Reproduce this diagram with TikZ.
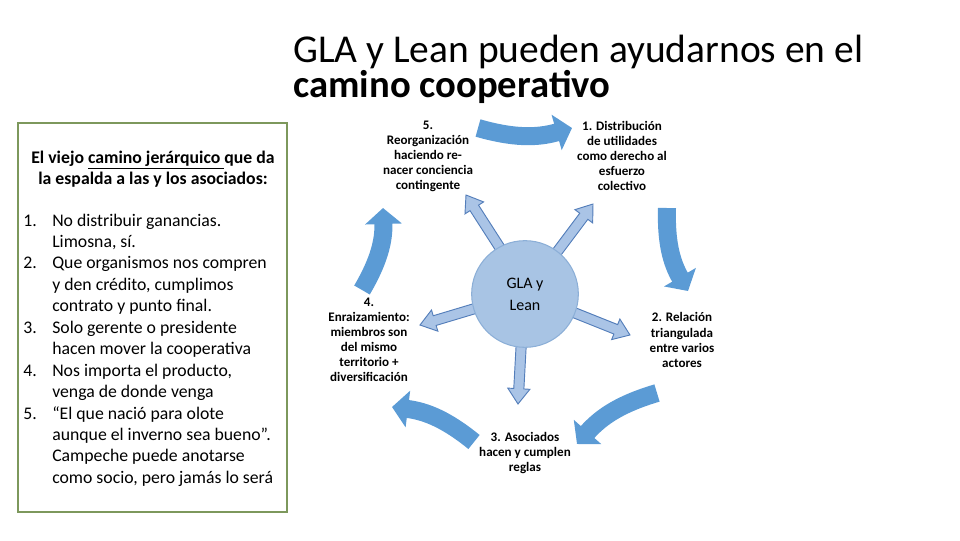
\documentclass[tikz,border=0pt]{standalone}
\usepackage{fontspec}
\setmainfont{Carlito}
\usetikzlibrary{arrows.meta,calc}
\definecolor{bigblue}{RGB}{91,155,213}
\definecolor{lightfill}{RGB}{170,196,230}
\definecolor{lightline}{RGB}{84,126,186}
\definecolor{circfill}{RGB}{168,196,228}
\definecolor{circline}{RGB}{140,175,215}
\definecolor{boxgreen}{RGB}{125,152,92}
\tikzset{
  bigarrow/.style={draw=bigblue, line width=13.5pt,
    -{Triangle[width=27pt,length=12pt]}},
  thinarrow/.style={draw=lightline, fill=lightfill, line width=0.7pt, line join=miter},
  lbl/.style={font=\fontsize{9.8pt}{11.3pt}\selectfont\bfseries, align=center, inner sep=0pt},
  title/.style={anchor=base west, inner sep=0pt, font=\fontsize{29.6pt}{36pt}\selectfont},
  itemtxt/.style={anchor=base west, inner sep=0pt, font=\fontsize{13.3pt}{16pt}\selectfont},
}
\newcommand{\blockarr}[2]{%
  \coordinate (hb) at ($(#2)!11.5pt!(#1)$);
  \path[thinarrow] ($(#1)!3.8pt!90:(#2)$) -- ($(hb)!3.8pt!90:(#2)$)
    -- ($(hb)!8.3pt!90:(#2)$) -- (#2) -- ($(hb)!8.3pt!-90:(#2)$)
    -- ($(hb)!3.8pt!-90:(#2)$) -- ($(#1)!3.8pt!-90:(#2)$) -- cycle;
}
\begin{document}
\begin{tikzpicture}[x=0.75pt,y=-0.75pt]
\useasboundingbox (0,0) rectangle (960,540);
% title
\node[title] (t1) at (293,62) {GLA y Lean pueden ayudarnos en el};
\node[title, font=\fontsize{29pt}{36pt}\selectfont\bfseries] (t2) at (293,97) {camino cooperativo};
% left box
\node[draw=boxgreen, line width=1.6pt, minimum width=202pt, minimum height=292pt, anchor=north west, inner sep=0pt] (box) at (17,122) {};
\node[anchor=base, inner sep=0pt, font=\fontsize{13.3pt}{16pt}\selectfont\bfseries] (h1) at (153,163)
  {El viejo \underline{camino jerárquico }que da};
\node[anchor=base, inner sep=0pt, font=\fontsize{13.3pt}{16pt}\selectfont\bfseries] (h2) at (153,184)
  {la espalda a las y los asociados:};
\foreach \n/\y in {1./226, 2./268.9, 3./333.25, 4./376.15, 5./419.05}
  \node[itemtxt] (num\n) at (23,\y) {\n};
\foreach \t [count=\i from 0] in {No distribuir ganancias., {Limosna, sí.}, Que organismos nos compren, {y den crédito, cumplimos}, contrato y punto final., Solo gerente o presidente, hacen mover la cooperativa, {Nos importa el producto,}, venga de donde venga, “El que nació para olote, aunque el inverno sea bueno”., Campeche puede anotarse, {como socio, pero jamás lo será}}
  \node[itemtxt] (line\i) at (52,{226+\i*21.45}) {\t};
% centre circle
\coordinate (c) at (525,294);
\coordinate (e5) at (466,195);
\coordinate (e1) at (593,204);
\coordinate (e4) at (420,325);
\coordinate (e2) at (630,335);
\coordinate (e3) at (518,404);
\coordinate (s5) at (511,265);
\coordinate (s1) at (545,268);
\coordinate (s4) at (490,304);
\coordinate (s2) at (560,307);
\coordinate (s3) at (522,330);
\blockarr{s5}{e5}
\blockarr{s1}{e1}
\blockarr{s4}{e4}
\blockarr{s2}{e2}
\blockarr{s3}{e3}
\node[circle, draw=circline, fill=circfill, line width=0.8pt, minimum size=80pt, inner sep=0pt,
  align=center, font=\fontsize{12pt}{16.5pt}\selectfont] (gla) at (c) {GLA y\\Lean};
% labels
\node[lbl] (n5) at (428,156) {5.\\Reorganización\\haciendo re-\\nacer conciencia\\contingente};
\node[lbl] (n1) at (622,156) {1. Distribución\\de utilidades\\como derecho al\\esfuerzo\\colectivo};
\node[lbl] (n4) at (369,340) {4.\\Enraizamiento:\\miembros son\\del mismo\\territorio +\\diversificación};
\node[lbl] (n2) at (682,340) {2. Relación\\triangulada\\entre varios\\actores};
\node[lbl] (n3) at (525,453) {3. Asociados\\hacen y cumplen\\reglas};
% cycle arrows
\coordinate (a5s) at (478,128);
\coordinate (a5e) at (572,128);
\coordinate (a1s) at (667,208);
\coordinate (a1e) at (688,291);
\coordinate (a2s) at (657,393);
\coordinate (a2e) at (577,444);
\coordinate (a3s) at (474,442);
\coordinate (a3e) at (392,407);
\coordinate (a4s) at (362,290);
\coordinate (a4e) at (383,208);
\draw[bigarrow] (a5s) to[bend right=16] (a5e);
\draw[bigarrow] (a1s) to[bend right=16] (a1e);
\draw[bigarrow] (a2s) to[bend right=16] (a2e);
\draw[bigarrow] (a3s) to[bend right=16] (a3e);
\draw[bigarrow] (a4s) to[bend right=16] (a4e);
\end{tikzpicture}
\end{document}
